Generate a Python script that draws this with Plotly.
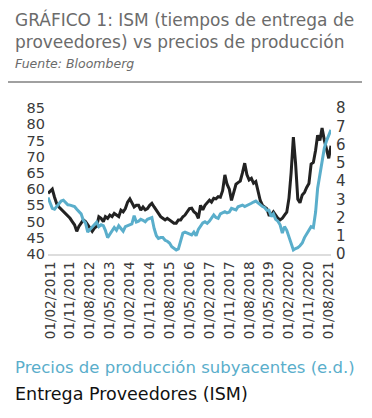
import plotly.graph_objects as go
import pandas as pd

# Monthly data Jan 2011 - Sep 2021
dates = pd.date_range("2011-01-01", "2021-09-01", freq="MS")

ism_supplier_deliveries = [
    58.7, 59.5, 60.0, 57.5, 55.5, 54.5, 53.8, 53.0, 52.5, 51.5, 51.0, 50.0,
    49.0, 47.0, 48.5, 49.5, 50.5, 50.0, 49.0, 48.0, 47.0, 48.0, 48.5, 51.5,
    51.0, 50.0, 51.5, 51.0, 52.0, 51.5, 52.5, 52.0, 51.5, 53.5, 53.0, 54.0,
    56.0, 57.0, 56.0, 54.5, 55.0, 55.0, 53.5, 54.5, 53.6, 54.0, 55.0, 55.6,
    54.5, 53.5, 52.5, 51.5, 51.0, 50.5, 51.0, 50.5, 50.0, 49.5, 49.5, 50.5,
    50.5, 51.5, 52.0, 53.0, 54.0, 54.1, 53.0, 52.5, 51.0, 55.0, 53.6, 55.0,
    56.0, 56.6, 56.0, 57.2, 57.0, 57.7, 57.5, 59.5, 64.4, 61.5, 60.0, 56.5,
    59.0, 61.5, 62.0, 62.5, 65.0, 68.0, 64.5, 62.8, 63.3, 61.8, 62.3, 59.5,
    56.5, 55.0, 54.6, 54.0, 52.0, 52.0, 53.0, 52.0, 51.0, 50.5, 51.0, 52.0,
    52.9, 57.3, 65.0, 76.0, 68.0, 56.9, 55.8, 58.2, 59.0, 60.5, 61.7, 67.7,
    68.2, 72.0, 76.6, 75.0, 78.8, 75.1, 72.5, 69.5, 73.4,
]

core_ppi_yoy = [
    3.1, 2.8, 2.5, 2.45, 2.6, 2.8, 2.9, 2.95, 2.8, 2.7, 2.68, 2.65,
    2.6, 2.45, 2.35, 2.2, 1.85, 1.7, 1.2, 1.35, 1.45, 1.6, 1.75, 1.5,
    1.6, 1.55, 1.3, 0.9, 1.1, 1.3, 1.45, 1.3, 1.55, 1.4, 1.25, 1.5,
    1.55, 1.6, 1.65, 2.1, 1.75, 1.8, 1.9, 1.85, 1.77, 1.9, 1.95, 2.0,
    1.4, 1.0, 0.85, 0.9, 0.9, 0.75, 0.7, 0.6, 0.4, 0.3, 0.22, 0.28,
    0.8, 1.15, 1.2, 1.15, 1.1, 1.05, 1.2, 1.0, 1.35, 1.55, 1.7, 1.77,
    1.68, 1.8, 1.95, 2.14, 2.0, 1.95, 2.2, 2.25, 2.32, 2.25, 2.3, 2.5,
    2.45, 2.41, 2.59, 2.65, 2.68, 2.6, 2.65, 2.7, 2.78, 2.85, 2.9, 2.8,
    2.68, 2.6, 2.55, 2.4, 2.4, 2.05, 2.2, 1.9, 1.8, 1.6, 1.15, 1.5,
    1.3, 0.95, 0.5, 0.22, 0.3, 0.35, 0.45, 0.6, 0.9, 1.1, 1.35, 1.5,
    1.45, 2.3, 3.6, 4.3, 5.0, 5.8, 6.2, 6.55, 6.8,
]

tick_dates = pd.date_range("2011-02-01", "2021-08-01", freq="9MS")
tick_labels = [d.strftime("%d/%m/%Y") for d in tick_dates]
left_ticks = list(range(40, 90, 5))
right_ticks = list(range(0, 9))

BLACK = "#222222"
BLUE = "#5aaecb"
GRAY = "#6b6b6b"
FONT = "DejaVu Sans"

fig = go.Figure()
fig.add_trace(go.Scatter(x=dates, y=ism_supplier_deliveries, mode="lines",
                         line=dict(color=BLACK, width=3), yaxis="y",
                         name="Entrega Proveedores (ISM)", showlegend=False))
fig.add_trace(go.Scatter(x=dates, y=core_ppi_yoy, mode="lines",
                         line=dict(color=BLUE, width=3), yaxis="y2",
                         name="Precios de producción subyacentes (e.d.)", showlegend=False))

W, H = 372, 418
L, R, T, B = 48, 41, 108, 164
pw, ph = W - L - R, H - T - B

def px(xp):
    return (xp - L) / pw

def py(yp):
    return (H - B - yp) / ph

fig.update_layout(
    width=W, height=H,
    margin=dict(l=L, r=R, t=T, b=B),
    paper_bgcolor="white", plot_bgcolor="white",
    font=dict(family=FONT, color="#3a3a3a"),
    xaxis=dict(type="date", range=["2011-01-01", "2021-09-01"],
               tickvals=tick_dates, ticktext=tick_labels, tickangle=-90,
               tickfont=dict(size=13.5, color="#3a3a3a", family=FONT),
               showgrid=False, zeroline=False, showline=True,
               linecolor="#dddddd", linewidth=2, ticks=""),
    yaxis=dict(range=[40, 85], tickvals=left_ticks, showgrid=False,
               zeroline=False, tickfont=dict(size=14.5, color="#3a3a3a", family=FONT),
               ticks="", ticklabelstandoff=2),
    yaxis2=dict(range=[0, 8], tickvals=right_ticks, overlaying="y", side="right",
                showgrid=False, zeroline=False, ticklabelstandoff=4,
                tickfont=dict(size=15, color="#3a3a3a", family=FONT), ticks=""),
    showlegend=False,
)

annotations = [
    dict(text="GRÁFICO 1: ISM (tiempos de entrega de<br>proveedores) vs precios de producción",
         x=px(13), y=py(30), align="left",
         font=dict(size=17, color=GRAY, family=FONT)),
    dict(text="<i>Fuente: Bloomberg</i>", x=px(13), y=py(63),
         font=dict(size=12.5, color=GRAY, family=FONT)),
    dict(text="Precios de producción subyacentes (e.d.)", x=px(13), y=py(367),
         font=dict(size=16.5, color=BLUE, family=FONT)),
    dict(text="Entrega Proveedores (ISM)", x=px(13), y=py(394),
         font=dict(size=17.5, color="#111111", family=FONT)),
]
for a in annotations:
    a.update(xref="paper", yref="paper", xanchor="left", yanchor="middle",
             showarrow=False)
fig.update_layout(annotations=annotations)

fig.add_shape(type="line", xref="paper", yref="paper",
              x0=px(8), x1=px(362), y0=py(82), y1=py(82),
              line=dict(color="#a0a0a0", width=2))

fig.write_html("out.html", config={"displayModeBar": False},
               post_script="document.body.style.margin='0px';")
